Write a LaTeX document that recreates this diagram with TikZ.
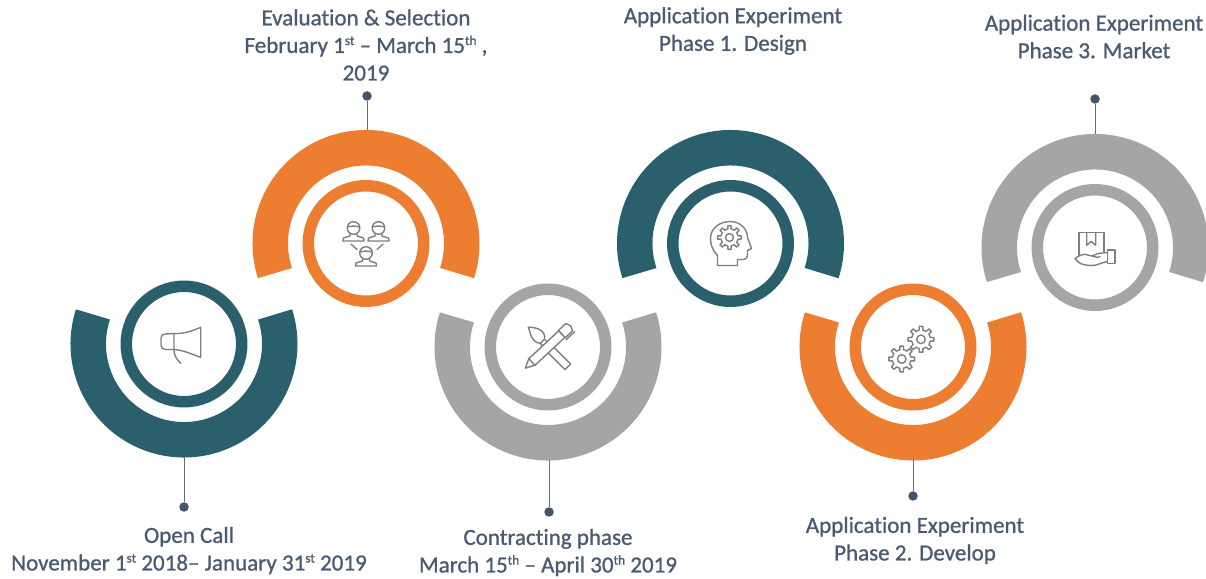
\documentclass[tikz,border=0pt]{standalone}
\usepackage{fontspec}
\setmainfont{Carlito}[Ligatures={TeX,NoCommon}]
\usetikzlibrary{calc,positioning}
\definecolor{tealc}{HTML}{2A606C}
\definecolor{orangec}{HTML}{ED7D31}
\definecolor{greyc}{HTML}{A5A5A5}
\definecolor{dotc}{HTML}{44546A}
\definecolor{textc}{HTML}{4A5A70}
\definecolor{iconc}{HTML}{7F7F7F}
\newcommand{\supr}[1]{\raisebox{0.72ex}{\fontsize{7.6}{8}\selectfont #1}}
\tikzset{
	bigarc/.style={line width=0.71cm},
	ring/.style={circle,draw=#1,fill=white,line width=0.23cm,minimum size=2.31cm,inner sep=0pt},
	dotnode/.style={circle,fill=dotc,minimum size=0.19cm,inner sep=0pt},
	stem/.style={draw=dotc!85,line width=0.5pt},
	label/.style={align=center,text=textc,font=\fontsize{13.1}{15.7}\selectfont\addfontfeatures{FakeBold=0.9}},
	icon/.style={draw=iconc,line width=0.8pt,line join=round,line cap=round},
	person/.pic={
		\draw[icon] (0,0.5) circle (6.3);
		\draw[icon] (-6,1.5) to[bend left=15] (6,1.5);
		\draw[icon] (-10.5,-12.5)--(10.5,-12.5)--(10,-9.5)--(3.5,-7.5)--(3.5,-5.5);
		\draw[icon] (-10.5,-12.5)--(-10,-9.5)--(-3.5,-7.5)--(-3.5,-5.5);
	},
	gear/.pic={
		\draw[icon] (-11:9.5) \foreach \a in {0,45,...,315}{ -- (\a-11:9.5) -- (\a-8:13) -- (\a+8:13) -- (\a+11:9.5)} -- cycle;
		\draw[icon] (0,0) circle (4.3);
	},
}
\begin{document}
\begin{tikzpicture}[x=0.02cm,y=0.02cm]
	\useasboundingbox (0,0) rectangle (1206,578);
	% arcs
	\draw[bigarc,tealc] ($(184,234)+(162:95.75)$) arc[start angle=162,end angle=378,radius=95.75];
	\draw[bigarc,orangec] ($(366,334.5)+(198:95.75)$) arc[start angle=198,end angle=-18,radius=95.75];
	\draw[bigarc,greyc] ($(548,231)+(162:95.75)$) arc[start angle=162,end angle=378,radius=95.75];
	\draw[bigarc,tealc] ($(730.5,334.5)+(198:95.75)$) arc[start angle=198,end angle=-18,radius=95.75];
	\draw[bigarc,orangec] ($(913,231)+(162:95.75)$) arc[start angle=162,end angle=378,radius=95.75];
	\draw[bigarc,greyc] ($(1095,330.5)+(198:95.75)$) arc[start angle=198,end angle=-18,radius=95.75];
	% rings
	\node[ring=tealc] (ringa) at (184,234) {};
	\node[ring=orangec] (ringb) at (366,334.5) {};
	\node[ring=greyc] (ringc) at (548,231) {};
	\node[ring=tealc] (ringd) at (730.5,334.5) {};
	\node[ring=orangec] (ringe) at (913,231) {};
	\node[ring=greyc] (ringf) at (1095,330.5) {};
	% stems and dots
	\coordinate (enda) at (184,120.5);
	\coordinate (endb) at (367,448);
	\coordinate (endc) at (549,117.5);
	\coordinate (ende) at (913,117.5);
	\coordinate (endf) at (1095,444);
	\node[dotnode] (dota) at (184,71) {};
	\node[dotnode] (dotb) at (367,482) {};
	\node[dotnode] (dotc) at (549,66) {};
	\node[dotnode] (dote) at (913,82) {};
	\node[dotnode] (dotf) at (1095,479) {};
	\draw[stem] (enda)--(dota);
	\draw[stem] (endb)--(dotb);
	\draw[stem] (endc)--(dotc);
	\draw[stem] (ende)--(dote);
	\draw[stem] (endf)--(dotf);
	% labels
	\node[label] (labela) at (189,27.5) {Open Call\\November 1\supr{st} 2018-- January 31\supr{st} 2019};
	\node[label] (labelb) at (366,533) {Evaluation \& Selection\\February 1\supr{st} -- March 15\supr{th} ,\\2019};
	\node[label] (labelc) at (548,25.5) {Contracting phase\\March 15\supr{th} -- April 30\supr{th} 2019};
	\node[label] (labeld) at (733,547) {Application Experiment\\Phase 1. Design};
	\node[label] (labele) at (915,37.5) {Application Experiment\\Phase 2. Develop};
	\node[label] (labelf) at (1094,541.5) {Application Experiment\\Phase 3. Market};
	% megaphone
	\begin{scope}[shift={(ringa.center)}]
		\draw[icon] (16.7,16.7)--(16.7,-13.3) .. controls (5,-9) and (-2,-6) .. (-10,-5.5)--(-19,-5.5) to[out=180,in=-90] (-23,-1)--(-23,6) to[out=90,in=180] (-19,10)--(-10,10.5) .. controls (0,10) and (8,13) .. (16.7,16.7);
		\draw[icon] (-10,10.5)--(-10,-5.5) to[out=-90,in=135] (-3.3,-19.3);
	\end{scope}
	% three people
	\begin{scope}[shift={(ringb.center)}]
		\pic at (-12.5,15) {person};
		\pic at (12.5,15) {person};
		\pic at (0,-10) {person};
		\draw[icon] (-15,-0.7)--(-9,-6);
		\draw[icon] (17,-0.7)--(11,-6);
	\end{scope}
	% brush and pen
	\begin{scope}[shift={(ringc.center)}]
		\begin{scope}[rotate=-135]
			\draw[icon] (-4,-4)--(-4,28)--(4,28)--(4,-4);
			\draw[icon] (-3,-4)--(3,-4)--(3,-8)--(-3,-8)--cycle;
			\draw[icon] (-3,-8) .. controls (-9,-12) and (-8,-20) .. (0,-28) .. controls (1,-24) and (9,-16) .. (3,-8);
		\end{scope}
		\begin{scope}[rotate=43]
			\draw[icon,fill=white] (-31,0)--(-22,-4.5)--(19,-4.5)--(19,4.5)--(-22,4.5)--cycle;
			\draw[icon,fill=white] (19,-5)--(29,-5)--(31,0)--(29,5)--(19,5)--cycle;
			\draw[icon] (-22,-4.5)--(-22,4.5);
			\draw[icon] (18,-7)--(30,-7);
		\end{scope}
	\end{scope}
	% head with gear
	\begin{scope}[shift={(ringd.center)}]
		\draw[icon] (-13,-22)--(-13,-12) .. controls (-18,-7) and (-20,-1) .. (-20,5) .. controls (-20,16) and (-10,22) .. (0,22) .. controls (10,22) and (17,14) .. (17,6)--(21,-5)--(17,-7)--(17,-12) to[out=-90,in=0] (13,-16)--(7,-16)--(7,-22)--cycle;
		\pic[scale=0.92] at (-1,6) {gear};
	\end{scope}
	% two gears
	\begin{scope}[shift={(ringe.center)}]
		\pic at (8,7.7) {gear};
		\pic at (-11.3,-12) {gear};
	\end{scope}
	% box in hand
	\begin{scope}[shift={(ringf.center)}]
		\draw[icon] (-16,-7.7)--(-16,15)--(9,15)--(9,-4);
		\draw[icon] (-8.3,15)--(-8.3,2.3)--(-3.8,6)--(0.7,2.3)--(0.7,15);
		\draw[icon] (12.3,-2.7)--(20,-2.7)--(20,-16)--(12.3,-16)--cycle;
		\draw[icon] (12.3,-5) to[out=180,in=0] (3,-6)--(-3,-8.5) to[out=190,in=20] (-12,-7) to[out=200,in=40] (-20,-11) to[out=-60,in=175] (-5,-18) to[out=-5,in=190] (12.3,-14);
		\draw[icon] (-3,-8.5)--(3,-10)--(5,-9);
	\end{scope}
\end{tikzpicture}
\end{document}
